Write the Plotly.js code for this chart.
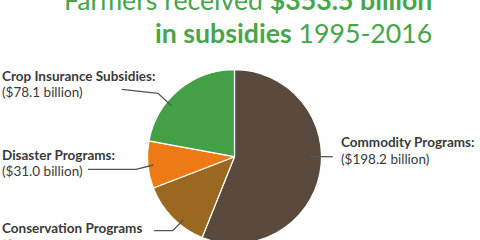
<!DOCTYPE html>
<html>
<head>
<meta charset="utf-8">
<script src="https://cdn.plot.ly/plotly-3.0.1.min.js"></script>
<style>
html,body{margin:0;padding:0;overflow:hidden;background:#fff;}
#chart{width:480px;height:250px;}
</style>
</head>
<body>
<div id="chart"></div>
<script>
// Data (billions of dollars, 1995-2016)
const programs = ["Commodity Programs", "Conservation Programs", "Disaster Programs", "Crop Insurance Subsidies"];
const amounts = [198.2, 46.2, 31.0, 78.1];
const labelHeads = ["Commodity Programs:", "Conservation Programs", "Disaster Programs:", "Crop Insurance Subsidies:"];
const amountLabels = ["($198.2 billion)", "($46.2 billion)", "($31.0 billion)", "($78.1 billion)"];
const colors = ["#594a3d", "#9b6821", "#ee7a16", "#44a046"];

const W = 480, H = 250;
const px = x => x / W;
const py = y => 1 - y / H;

// pie geometry (pixels)
const cx = 234.5, cy = 156.7, R = 87;

const trace = {
  type: "pie",
  labels: programs,
  values: amounts,
  sort: false,
  direction: "clockwise",
  rotation: 0,
  textinfo: "none",
  hoverinfo: "label+value",
  marker: {colors: colors, line: {color: "#ffffff", width: 1.2}},
  domain: {x: [px(cx - R), px(cx + R)], y: [py(cy + R), py(cy - R)]},
  showlegend: false
};

// label placements (pixels): [x, y of first line center]
const labelPos = [
  [339, 142],
  [0, 228],
  [0, 154.5],
  [0, 75.8]
];
const lineGap = 16.6;
// leader lines (pixels)
const leaders = [
  [[309, 156.7], [332.7, 156.7]],
  [[154, 230.7], [172.7, 230.7], [183.3, 220]],
  [[88, 169.3], [136, 169.3], [153.3, 165]],
  [[121.7, 89.3], [158, 93.3], [171.7, 106]]
];

const labelFont = {family: "Lato", size: 13.5, color: "#3a3a3a"};
const annotations = [];
programs.forEach((p, i) => {
  const [x, y] = labelPos[i];
  annotations.push({
    xref: "paper", yref: "paper", x: px(x), y: py(y),
    xanchor: "left", yanchor: "middle", showarrow: false,
    text: "<b>" + labelHeads[i] + "</b>", font: labelFont
  });
  annotations.push({
    xref: "paper", yref: "paper", x: px(x), y: py(y + lineGap),
    xanchor: "left", yanchor: "middle", showarrow: false,
    text: amountLabels[i], font: labelFont
  });
});

const titleFont = {family: "Lato", size: 26.7, color: "#47a54a"};
annotations.push({
  xref: "paper", yref: "paper", x: px(434), y: py(0), xanchor: "right", yanchor: "middle",
  showarrow: false, text: "Farmers received <b>$353.5 billion</b>", font: titleFont
});
annotations.push({
  xref: "paper", yref: "paper", x: px(434), y: py(32.5), xanchor: "right", yanchor: "middle",
  showarrow: false, text: "<b>in subsidies</b> 1995-2016", font: titleFont
});

const shapes = leaders.map(pts => ({
  type: "path", xref: "paper", yref: "paper",
  path: pts.map((p, k) => (k ? "L" : "M") + px(p[0]) + "," + py(p[1])).join(" "),
  line: {color: "#555555", width: 1.3}
}));

Plotly.newPlot("chart", [trace], {
  width: W, height: H,
  margin: {l: 0, r: 0, t: 0, b: 0},
  paper_bgcolor: "#ffffff",
  annotations: annotations,
  shapes: shapes
}, {displayModeBar: false, staticPlot: true});
</script>
</body>
</html>
